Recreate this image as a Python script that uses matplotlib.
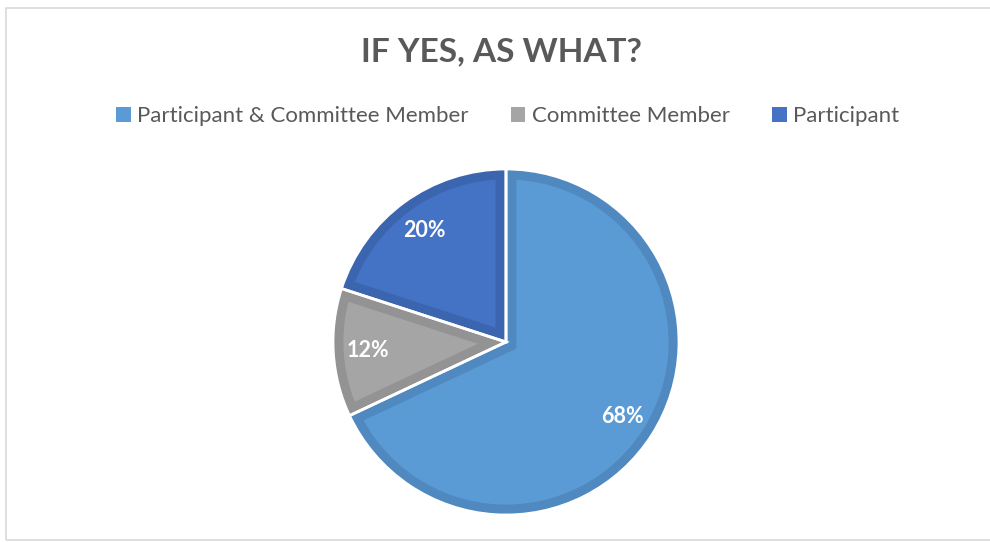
"""
Pie chart: "If yes, as what?" survey breakdown.
"""
import matplotlib
matplotlib.use('Agg')
import matplotlib.pyplot as plt
from matplotlib.patches import Rectangle, Patch

plt.rcParams['font.family'] = ['Lato', 'DejaVu Sans']

labels = ['Participant & Committee Member', 'Committee Member', 'Participant']
shares = [68, 12, 20]
fills = ['#5B9BD5', '#A5A5A5', '#4472C4']
rims = ['#4F89C0', '#939393', '#3C65B0']


def main():
    fig = plt.figure(figsize=(9.9, 5.42), dpi=100)

    # Thin grey frame round the chart area.
    fig.patches.append(Rectangle((6 / 990, 2 / 542), 1.0, 532 / 542,
                                 transform=fig.transFigure, fill=False,
                                 edgecolor='#D9D9D9', linewidth=1.2))

    # Square axes centred on the pie.
    cx, cy, r = 506, 542 - 342, 173
    ax = fig.add_axes([(cx - r) / 990, (cy - r) / 542, 2 * r / 990, 2 * r / 542])

    wedges, _, autotexts = ax.pie(
        shares, colors=fills, startangle=90, counterclock=False,
        radius=1, autopct='%d%%', pctdistance=0.8,
        textprops=dict(color='white', fontsize=15.5, fontweight='bold'),
        wedgeprops=dict(linewidth=0))

    # Darker rim on the inside of every slice: a wide stroke clipped to the slice.
    for w, rim in zip(wedges, rims):
        w.set_edgecolor(rim)
        w.set_linewidth(15)
        w.set_clip_on(True)
        w.set_clip_path(w)

    # White gaps between the slices.
    ax.pie(shares, colors=['none'] * 3, startangle=90, counterclock=False,
           radius=1, wedgeprops=dict(edgecolor='white', linewidth=2))

    # pie() resets the limits, so fix them afterwards.
    ax.set_xlim(-1, 1)
    ax.set_ylim(-1, 1)
    ax.axis('off')

    fig.text(0.507, 1 - 52 / 542, 'IF YES, AS WHAT?', ha='center', va='center',
             fontsize=24, fontweight='bold', color='#595959')

    handles = [Patch(facecolor=c, edgecolor='none') for c in fills]
    fig.legend(handles, labels, loc='center', bbox_to_anchor=(0.513, 1 - 116 / 542),
               ncol=3, frameon=False, fontsize=16, labelcolor='#595959',
               handlelength=0.65, handleheight=0.65, handletextpad=0.3,
               columnspacing=1.9)

    fig.savefig('out.png', dpi=100)


if __name__ == '__main__':
    main()
